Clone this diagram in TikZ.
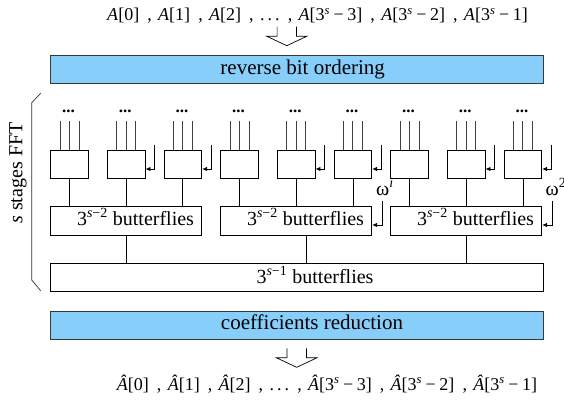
\documentclass[tikz,border=0pt]{standalone}
\usepackage{fontspec}
\setmainfont{Liberation Serif}
\usetikzlibrary{arrows.meta}
\definecolor{skyb}{RGB}{135,206,250}
\definecolor{edgegray}{RGB}{55,55,55}
\newcommand{\Ax}[1]{\textit{A}[#1]}
\newcommand{\Ah}[1]{\textit{\makebox[0.611em][l]{Â}}[#1]}
\newcommand{\thr}[1]{3\textsuperscript{\textit{s}}\hspace{0.2em}−\hspace{0.2em}#1}
\newcommand{\csep}{\hspace{0.45em},\hspace{0.35em}}
\newcommand{\dts}{.\kern0.17em.\kern0.17em.}
\begin{document}
\begin{tikzpicture}[x=1pt,y=-1pt,
  every node/.style={font=\fontsize{20}{24}\selectfont, inner sep=0pt},
  biglbl/.style={font=\fontsize{21}{25}\selectfont},
  seqlbl/.style={font=\fontsize{18}{22}\selectfont},
  blubox/.style={draw=edgegray, line width=1pt, fill=skyb, minimum width=492.5pt, minimum height=28.3pt},
  wbox/.style={draw=black, line width=0.8pt, fill=white},
  wire/.style={draw=black, line width=0.8pt},
  inln/.style={draw=black!75, line width=1pt},
  tw/.style={draw=black, line width=0.8pt, -{Latex[length=5pt,width=4.5pt]}},
  hollow/.style={draw=black, line width=0.7pt, line join=miter},
  brk/.style={draw=black!80, line width=0.7pt},
  dotsfont/.style={font=\fontsize{17}{17}\bfseries\selectfont}]
\useasboundingbox (0,0) rectangle (564,400);

% top input text and arrow
\node[seqlbl, anchor=base] (top) at (317.5,20.7) {\Ax{0}\csep\Ax{1}\csep\Ax{2}\csep\dts\csep\Ax{\thr{3}}\csep\Ax{\thr{2}}\csep\Ax{\thr{1}}};
\coordinate (ta) at (286.8,45.7);
\draw[hollow] ([xshift=-9.7pt,yshift=19pt]ta) -- ([xshift=-9.7pt,yshift=9.5pt]ta) -- ([xshift=-20.2pt,yshift=9.5pt]ta) -- (ta) -- ([xshift=20.2pt,yshift=9.5pt]ta) -- ([xshift=9.7pt,yshift=9.5pt]ta) -- ([xshift=9.7pt,yshift=19pt]ta);

% reverse bit ordering
\node[blubox] (rbo) at (296.75,69.15) {};
\node[biglbl, anchor=base] at (302.7,74) {reverse bit ordering};

% bracket and label
\draw[brk] (40.7,93.3) -- (31.7,102.7) -- (31.7,280) -- (40.7,290.7);
\node[rotate=90] (lbl) at (18,173) {\textit{s} stages FFT};

% small boxes
\foreach \k in {0,...,8}{
  \pgfmathsetmacro\cx{69.55+56.67*\k}
  \node[wbox, minimum width=37.7pt, minimum height=28.3pt] (b\k) at (\cx,164.15) {};
  \draw[inln] ([xshift=-9.5pt]b\k.north) -- ++(0,-28.3);
  \draw[inln] (b\k.north) -- ++(0,-28.3);
  \draw[inln] ([xshift=9.5pt]b\k.north) -- ++(0,-28.3);
  \node[dotsfont, anchor=base] at ([xshift=-1pt]\cx,112.5) {...};
}
\foreach \k in {1,2,4,5,7,8}{
  \draw[tw] ([xshift=9.3pt,yshift=5pt]b\k.north east) |- ([yshift=-4.85pt]b\k.east);
}

% butterfly boxes
\foreach \g in {0,1,2}{
  \pgfmathsetmacro\fx{126.2+170*\g}
  \node[wbox, minimum width=151pt, minimum height=29pt] (f\g) at (\fx,221.2) {};
  \node[anchor=base] at ([xshift=9.3pt]\fx,225) {3\textsuperscript{\textit{s}−2} butterflies};
  \foreach \j in {0,1,2}{
    \pgfmathtruncatemacro\k{3*\g+\j}
    \draw[wire] (b\k.south) -- (b\k.south |- f\g.north);
  }
}
\foreach \g in {1,2}{
  \draw[tw] ([xshift=10pt,yshift=5pt]f\g.north east) |- ([yshift=-3.8pt]f\g.east);
}
\node[anchor=base west] (w1) at (376,195) {ω\textsuperscript{\textit{i}}};
\node[anchor=base west] (w2) at (545.5,195) {ω\textsuperscript{2\textit{i}}};

% big butterfly box
\node[wbox, minimum width=492.5pt, minimum height=28.4pt] (big) at (296.75,277.5) {};
\node[anchor=base] at (315,283.3) {3\textsuperscript{\textit{s}−1} butterflies};
\draw[wire] (f0.south) -- (f0.south |- big.north);
\draw[wire] ([xshift=9.8pt]f1.south) -- ([xshift=9.8pt]f1.south |- big.north);
\draw[wire] (f2.south) -- (f2.south |- big.north);

% coefficients reduction
\node[blubox] (cr) at (296.75,325.15) {};
\node[biglbl, anchor=base] at (312,329.3) {coefficients reduction};

% bottom arrow and output text
\coordinate (ba) at (296.7,367.3);
\draw[hollow] ([xshift=-9.7pt,yshift=19pt]ba) -- ([xshift=-9.7pt,yshift=9.5pt]ba) -- ([xshift=-20.2pt,yshift=9.5pt]ba) -- (ba) -- ([xshift=20.2pt,yshift=9.5pt]ba) -- ([xshift=9.7pt,yshift=9.5pt]ba) -- ([xshift=9.7pt,yshift=19pt]ba);
\node[seqlbl, anchor=base] (bot) at (327,390) {\Ah{0}\csep\Ah{1}\csep\Ah{2}\csep\dts\csep\Ah{\thr{3}}\csep\Ah{\thr{2}}\csep\Ah{\thr{1}}};
\end{tikzpicture}
\end{document}
